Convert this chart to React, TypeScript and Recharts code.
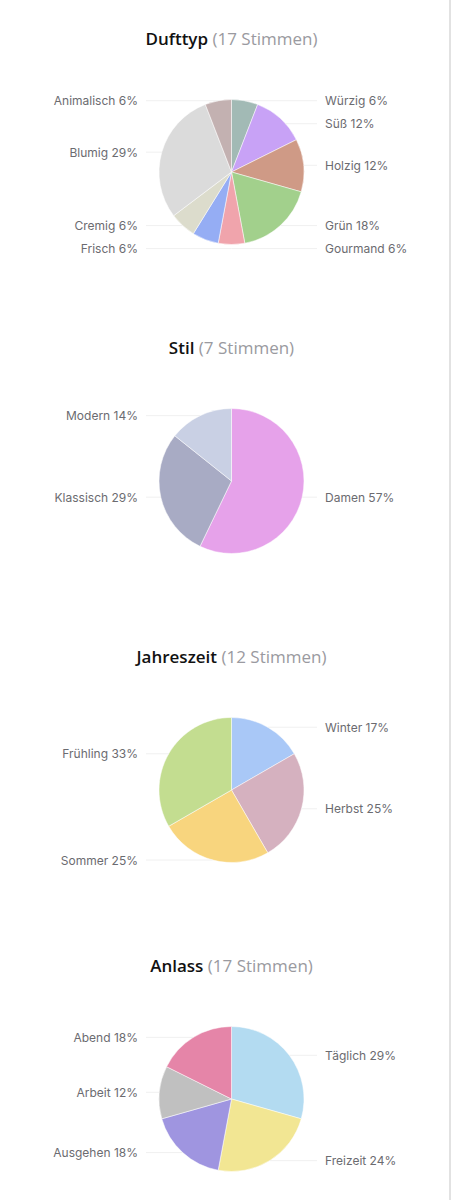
import { Cell, Pie, PieChart } from "recharts";

interface ISlice {
  name: string;
  votes: number;
  color: string;
}

const dufttypNames = ["Würzig", "Süß", "Holzig", "Grün", "Gourmand", "Frisch", "Cremig", "Blumig", "Animalisch"];
const dufttypVotes = [1, 2, 2, 3, 1, 1, 1, 5, 1];
const dufttypColors = ["#a2bab5", "#c8a2f6", "#cf9a86", "#a2d08c", "#f0a4ac", "#95adf4", "#dcdccc", "#dbdbdb", "#c3b1b1"];

const stilNames = ["Damen", "Klassisch", "Modern"];
const stilVotes = [4, 2, 1];
const stilColors = ["#e6a2ea", "#a8abc4", "#c9d0e4"];

const jahreszeitNames = ["Winter", "Herbst", "Sommer", "Frühling"];
const jahreszeitVotes = [2, 3, 3, 4];
const jahreszeitColors = ["#a9c8f7", "#d5b1bf", "#f8d57e", "#c3dd90"];

const anlassNames = ["Täglich", "Freizeit", "Ausgehen", "Arbeit", "Abend"];
const anlassVotes = [5, 4, 3, 2, 3];
const anlassColors = ["#b3dbf1", "#f2e693", "#9f95e0", "#c0c0c0", "#e585a8"];

const RADIUS = 72.5;
const CX = 231.5;
const CY = 172;
const LABEL_GAP = 21;
const MIN_SPACING = 23;
const RAD = Math.PI / 180;

function buildSlices(names: string[], votes: number[], colors: string[]): ISlice[] {
  return names.map((name, i) => ({ name, votes: votes[i], color: colors[i] }));
}

// pushes overlapping labels down, per side
function labelLayout(votes: number[]) {
  const total = votes.reduce((a, b) => a + b, 0);
  let acc = 0;
  const items = votes.map((v, i) => {
    const theta = ((acc + v / 2) / total) * 360;
    acc += v;
    const desired = -RADIUS * Math.cos(theta * RAD);
    const right = Math.sin(theta * RAD) >= -1e-9;
    return { i, desired, right, y: desired };
  });
  [true, false].forEach((side) => {
    const group = items.filter((it) => it.right === side).sort((a, b) => a.desired - b.desired);
    for (let k = 1; k < group.length; k++) {
      if (group[k].y - group[k - 1].y < MIN_SPACING) group[k].y = group[k - 1].y + MIN_SPACING;
    }
  });
  return items;
}

function makeLabel(votes: number[]) {
  const layout = labelLayout(votes);
  const total = votes.reduce((a, b) => a + b, 0);
  return (props: any) => {
    const { cx, cy, outerRadius, midAngle, index, name, value } = props;
    const item = layout[index];
    const base = -outerRadius * Math.sin(midAngle * RAD);
    const y = cy + base + (item.y - item.desired);
    const dy = y - cy;
    const edge = Math.abs(dy) < outerRadius ? Math.sqrt(outerRadius * outerRadius - dy * dy) : 0;
    const sign = item.right ? 1 : -1;
    const tx = cx + sign * (outerRadius + LABEL_GAP);
    const pct = Math.round((value / total) * 100);
    return (
      <g key={`l-${index}`}>
        <line x1={cx + sign * edge} y1={y} x2={tx - sign * 8} y2={y} stroke="#f0f0f0" strokeWidth={1} />
        <text
          x={tx}
          y={y}
          textAnchor={item.right ? "start" : "end"}
          dominantBaseline="central"
          fontSize={12}
          fill="#6b6b70"
          fontFamily="Inter, 'Noto Sans', sans-serif"
        >
          {`${name} ${pct}%`}
        </text>
      </g>
    );
  };
}

function VoteChart({ title, names, votes, colors }: { title: string; names: string[]; votes: number[]; colors: string[] }) {
  const data = buildSlices(names, votes, colors);
  const total = votes.reduce((a, b) => a + b, 0);
  return (
    <div style={{ position: "relative", width: 449, height: 309 }}>
      <div
        style={{
          position: "absolute",
          top: 26,
          left: 0,
          width: 463,
          textAlign: "center",
          fontFamily: "'Open Sans', sans-serif",
          fontSize: 17,
          lineHeight: "26px",
        }}
      >
        <span style={{ fontWeight: 600, color: "#111" }}>{title}</span>
        <span style={{ color: "#9a9aa0" }}> ({total} Stimmen)</span>
      </div>
      <PieChart
        width={449}
        height={309}
        margin={{ top: 0, right: 0, bottom: 0, left: 0 }}
        style={{ position: "absolute", top: 0, left: 0 }}
      >
        <Pie
          data={data}
          dataKey="votes"
          nameKey="name"
          cx={CX}
          cy={CY}
          outerRadius={RADIUS}
          startAngle={90}
          endAngle={-270}
          stroke="#ffffff"
          strokeWidth={0.5}
          label={makeLabel(votes)}
          labelLine={false}
          isAnimationActive={false}
        >
          {data.map((d) => (
            <Cell fill={d.color} key={d.name} />
          ))}
        </Pie>
      </PieChart>
    </div>
  );
}

export default function App() {
  return (
    <div
      style={{
        position: "absolute",
        top: 0,
        left: 0,
        width: 449,
        height: 1200,
        background: "#ffffff",
        borderRight: "2px solid #e2e2e2",
        overflow: "hidden",
      }}
    >
      <VoteChart title="Dufttyp" names={dufttypNames} votes={dufttypVotes} colors={dufttypColors} />
      <VoteChart title="Stil" names={stilNames} votes={stilVotes} colors={stilColors} />
      <VoteChart title="Jahreszeit" names={jahreszeitNames} votes={jahreszeitVotes} colors={jahreszeitColors} />
      <VoteChart title="Anlass" names={anlassNames} votes={anlassVotes} colors={anlassColors} />
    </div>
  );
}
